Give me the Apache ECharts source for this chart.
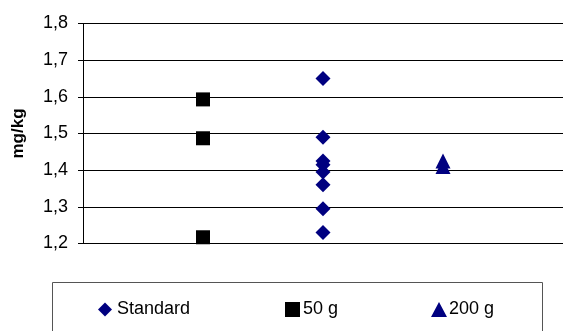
<!DOCTYPE html>
<html>
<head>
<meta charset="utf-8">
<script src="https://cdn.jsdelivr.net/npm/echarts@6/dist/echarts.min.js"></script>
<style>html,body{margin:0;padding:0;background:#fff}#c{width:563px;height:331px}</style>
</head>
<body>
<div id="c"></div>
<script>
var yTicks = ['1,2','1,3','1,4','1,5','1,6','1,7','1,8'];
var seriesNames = ['Standard', '50 g', '200 g'];
var standardX = [2, 2, 2, 2, 2, 2, 2, 2];
var standardY = [1.65, 1.49, 1.425, 1.415, 1.395, 1.36, 1.295, 1.23];
var g50X = [1, 1, 1];
var g50Y = [1.593, 1.487, 1.217];
var g200X = [3, 3];
var g200Y = [1.425, 1.41];

function pairs(xs, ys){ return xs.map(function(x,i){ return [x, ys[i]]; }); }

var chart = echarts.init(document.getElementById('c'), null, {renderer:'canvas'});
var font = '"Liberation Sans", Arial, sans-serif';
function legendText(pad){
  return { fontFamily: font, fontSize: 18, lineHeight: 18, color: '#000', padding: [0,0,0,pad] };
}
chart.setOption({
  animation: false,
  backgroundColor: '#fff',
  grid: { left: 83, right: -6, top: 23.5, bottom: 87.5, containLabel: false },
  xAxis: { type: 'value', min: 0, max: 4, show: false },
  yAxis: {
    type: 'value', min: 1.2, max: 1.8, interval: 0.1,
    name: 'mg/kg', nameLocation: 'middle', nameGap: 56,
    nameTextStyle: { fontFamily: font, fontWeight: 'bold', fontSize: 17, color: '#000' },
    axisLine: { show: true, lineStyle: { color: '#000', width: 1 } },
    axisTick: { show: true, inside: false, length: 5, lineStyle: { color: '#000' } },
    axisLabel: { fontFamily: font, fontSize: 18, color: '#000', margin: 15,
      formatter: function(v){ var i = Math.round((v - 1.2) * 10); return yTicks[i]; } },
    splitLine: { show: true, lineStyle: { color: '#000', width: 1 } }
  },
  legend: [
    { data: [seriesNames[0]], left: 98, top: 300.5, itemWidth: 14, itemHeight: 14, itemGap: 0, padding: 0,
      textStyle: legendText(0) },
    { data: [seriesNames[1]], left: 285, top: 300.5, itemWidth: 15, itemHeight: 15, itemGap: 0, padding: 0,
      textStyle: legendText(-2) },
    { data: [seriesNames[2]], left: 431, top: 300.5, itemWidth: 16, itemHeight: 15, itemGap: 0, padding: 0,
      textStyle: legendText(-3) }
  ],
  graphic: [
    { type: 'rect', shape: { x: 52.5, y: 282.5, width: 490, height: 60 },
      style: { fill: 'none', stroke: '#555', lineWidth: 1 }, z: -1 }
  ],
  series: [
    { name: seriesNames[0], type: 'scatter', symbol: 'diamond', symbolSize: [15, 15],
      itemStyle: { color: '#000080', opacity: 1 }, data: pairs(standardX, standardY) },
    { name: seriesNames[1], type: 'scatter', symbol: 'rect', symbolSize: 14,
      itemStyle: { color: '#000000', opacity: 1 }, data: pairs(g50X, g50Y) },
    { name: seriesNames[2], type: 'scatter', symbol: 'triangle', symbolSize: [15, 15],
      itemStyle: { color: '#000080', opacity: 1 }, data: pairs(g200X, g200Y) }
  ]
});
</script>
</body>
</html>
